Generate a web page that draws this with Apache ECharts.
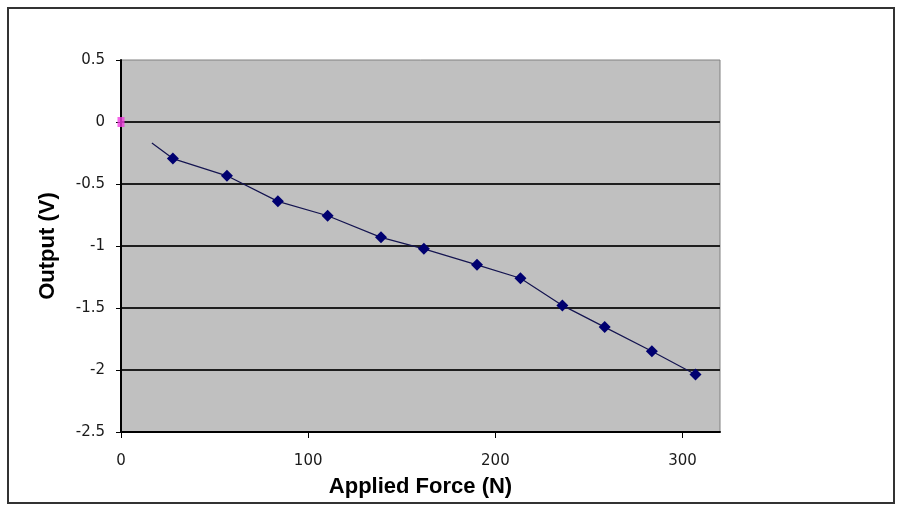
<!DOCTYPE html>
<html>
<head>
<meta charset="utf-8">
<script src="https://cdn.jsdelivr.net/npm/echarts@6/dist/echarts.min.js"></script>
<style>
html,body{margin:0;padding:0;background:#fff;}
#chart{width:898px;height:506px;}
</style>
</head>
<body>
<div id="chart"></div>
<script>
// Data
var forceN  = [16.5, 27.7, 56.6, 83.8, 110.4, 138.9, 161.8, 190.2, 213.4, 235.8, 258.4, 283.6, 306.9];
var outputV = [-0.17, -0.295, -0.434, -0.64, -0.756, -0.93, -1.023, -1.152, -1.26, -1.479, -1.654, -1.849, -2.036];
var originPoint = [[0, 0]];
var xTicks = [0, 100, 200, 300];
var xTitle = 'Applied Force (N)';
var yTitle = 'Output (V)';

var lineData = forceN.map(function (x, i) {
  var item = { value: [x, outputV[i]] };
  if (i === 0) { item.symbol = 'none'; }
  return item;
});

var chart = echarts.init(document.getElementById('chart'), null, { renderer: 'canvas' });
chart.setOption({
  animation: false,
  backgroundColor: '#ffffff',
  grid: {
    left: 121, right: 178, top: 60, bottom: 74,
    show: true, backgroundColor: '#c0c0c0', borderColor: '#808080', borderWidth: 1
  },
  xAxis: {
    type: 'value', min: 0, max: 320, interval: 100,
    name: xTitle, nameLocation: 'middle', nameGap: 44,
    nameTextStyle: { fontFamily: 'Liberation Sans, Arial', fontWeight: 'bold', fontSize: 22, color: '#000' },
    axisLine: { show: true, onZero: false, lineStyle: { color: '#000', width: 2 } },
    axisTick: { show: true, inside: false, length: 6, customValues: xTicks, lineStyle: { color: '#000', width: 1 } },
    axisLabel: { customValues: xTicks, margin: 22, fontFamily: 'DejaVu Sans', fontSize: 15, color: '#1a1a1a' },
    splitLine: { show: false }
  },
  yAxis: {
    type: 'value', min: -2.5, max: 0.5, interval: 0.5,
    name: yTitle, nameLocation: 'middle', nameGap: 62, nameRotate: 90,
    nameTextStyle: { fontFamily: 'Liberation Sans, Arial', fontWeight: 'bold', fontSize: 22, color: '#000' },
    axisLine: { show: true, onZero: false, lineStyle: { color: '#000', width: 2 } },
    axisTick: { show: true, inside: false, length: 5, lineStyle: { color: '#000', width: 1 } },
    axisLabel: { margin: 16, fontFamily: 'DejaVu Sans', fontSize: 15, color: '#1a1a1a' },
    splitLine: { show: true, showMaxLine: false, lineStyle: { color: '#1e1e1e', width: 2 } }
  },
  series: [
    {
      type: 'line',
      data: lineData,
      symbol: 'diamond', symbolSize: 12,
      lineStyle: { color: '#141450', width: 1.2 },
      itemStyle: { color: '#000070' },
      z: 3
    },
    {
      type: 'scatter',
      data: originPoint,
      symbol: 'rect', symbolSize: [7, 10],
      itemStyle: { color: '#f03ce0' },
      z: 4
    }
  ],
  graphic: [
    {
      type: 'rect', silent: true,
      shape: { x: 8, y: 8, width: 886, height: 495 },
      style: { fill: null, stroke: '#333', lineWidth: 2 }
    }
  ]
});
</script>
</body>
</html>
